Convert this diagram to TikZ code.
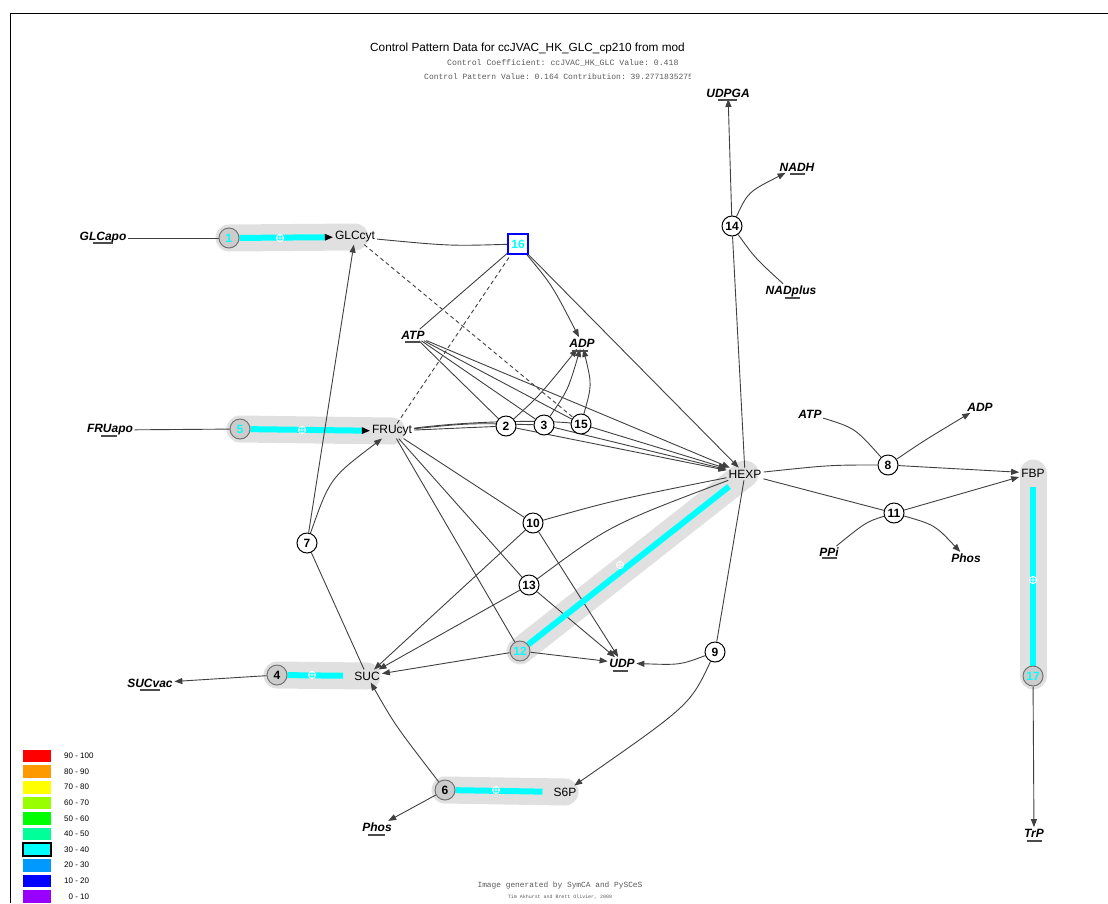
\documentclass[tikz,border=0pt]{standalone}
\usepackage{fontspec}
\setmainfont{Liberation Sans}
\setmonofont{Liberation Mono}
\usetikzlibrary{arrows.meta}

% legend colours
\definecolor{lgA}{HTML}{FF0000}
\definecolor{lgB}{HTML}{FF9900}
\definecolor{lgC}{HTML}{FFFF00}
\definecolor{lgD}{HTML}{99FF00}
\definecolor{lgE}{HTML}{00FF00}
\definecolor{lgF}{HTML}{00FF99}
\definecolor{lgG}{HTML}{00FFFF}
\definecolor{lgH}{HTML}{0099FF}
\definecolor{lgI}{HTML}{0000FF}
\definecolor{lgJ}{HTML}{9900FF}
\colorlet{hotcol}{lgG}

\pgfdeclarelayer{bands}
\pgfdeclarelayer{edges}
\pgfsetlayers{bands,edges,main}

\tikzset{
  rxn/.style={circle, draw=black, line width=1pt, fill=white, minimum size=20pt,
    inner sep=0pt, font=\fontsize{12}{12}\selectfont\bfseries},
  rxnhot/.style={rxn, draw=black!55, fill=black!20, text=hotcol},
  rxnon/.style={rxn, draw=black!55, fill=black!20},
  rxnbox/.style={rxn, rectangle, draw=blue, line width=1.2pt, text=hotcol},
  met/.style={inner sep=2pt, font=\fontsize{12}{13}\selectfont},
  ext/.style={inner sep=1.5pt, font=\fontsize{12}{13}\selectfont\bfseries\itshape},
  flux/.style={draw=black!75, line width=0.9pt},
  prod/.style={flux, -{Triangle[length=8pt,width=6pt]}},
  modif/.style={flux, dash pattern=on 4pt off 3pt},
  band/.style={draw=black!12, line width=27pt, line cap=round},
  hot/.style={draw=hotcol, line width=6pt},
  hotprod/.style={hot, -{Triangle[length=8pt,width=7pt,line width=0pt,color=black]}},
  ulbar/.style={draw=black!70, line width=1.2pt},
  xmark/.pic={\draw[white, line width=0.9pt] (0,0) circle (3.6) (-3.6,0) -- (3.6,0) (0,-3.6) -- (0,3.6);},
  legendtxt/.style={inner sep=0pt, font=\fontsize{8}{9}\selectfont},
}

\begin{document}
\begin{tikzpicture}[x=1pt, y=-1pt]
  \useasboundingbox (0,0) rectangle (1108,903);
  \draw[line width=1pt] (10,903) -- (10,13) -- (1108,13);

  % header
  \node[anchor=west, inner sep=0pt, font=\fontsize{11.8}{13}\selectfont] (title) at (370,48)
    {Control Pattern Data for ccJVAC\_HK\_GLC\_cp210 from mod};
  \node[anchor=west, inner sep=0pt, font=\fontsize{8.2}{9}\ttfamily, text=black!65] (cc) at (447,63)
    {Control Coefficient: ccJVAC\_HK\_GLC Value: 0.418};
  \begin{scope}
    \clip (0,0) rectangle (690,903);
    \node[anchor=west, inner sep=0pt, font=\fontsize{8}{9}\ttfamily, text=black!65] (cp) at (424,77)
      {Control Pattern Value: 0.164 Contribution: 39.2771835275};
  \end{scope}

  % species
  \node[ext] (GLCapo) at (103,238) {GLCapo};
  \node[met] (GLCcyt) at (355,237) {GLCcyt};
  \node[ext] (FRUapo) at (110,430) {FRUapo};
  \node[met] (FRUcyt) at (392,431) {FRUcyt};
  \node[ext] (ATPa) at (413,335) {ATP};
  \node[ext] (ADPa) at (582,343) {ADP};
  \node[met] (HEXP) at (745,474) {HEXP};
  \node[met] (FBP) at (1033,473) {FBP};
  \node[ext] (SUCvac) at (150,683) {SUCvac};
  \node[met] (SUC) at (367,676) {SUC};
  \node[ext] (PhosA) at (377,827) {Phos};
  \node[met] (S6P) at (565,792) {S6P};
  \node[ext] (UDP) at (622,663) {UDP};
  \node[ext] (UDPGA) at (728,93) {UDPGA};
  \node[ext] (NADH) at (797,167) {NADH};
  \node[ext] (NADplus) at (791,291) {NADplus};
  \node[ext] (ATPb) at (810,414) {ATP};
  \node[ext] (ADPb) at (980,407) {ADP};
  \node[ext] (PPi) at (829,552) {PPi};
  \node[ext] (PhosB) at (966,558) {Phos};
  \node[ext] (TrP) at (1034,833) {TrP};
  \foreach \xa/\xb/\yy in {93/113/243, 101/117/436, 140/160/690, 368/385/835, 405/420/342,
      572/588/351, 613/628/671, 718/737/100, 790/805/174, 785/800/298, 822/837/558, 1027/1042/841}
    \draw[ulbar] (\xa,\yy) -- (\xb,\yy);

  % reactions
  \foreach \n/\xx/\yy in {2/506/426, 3/544/425, 7/307/543, 8/888/465, 9/715/652,
      10/533/523, 11/894/513, 13/529/585, 14/732/226, 15/581/424}
    \node[rxn] (r\n) at (\xx,\yy) {\n};
  \foreach \n/\xx/\yy in {1/229/238, 5/240/429, 12/520/651, 17/1033/676}
    \node[rxnhot] (r\n) at (\xx,\yy) {\n};
  \foreach \n/\xx/\yy in {4/277/675, 6/445/790}
    \node[rxnon] (r\n) at (\xx,\yy) {\n};
  \node[rxnbox] (r16) at (518,244) {16};

  % highlighted pattern
  \begin{pgfonlayer}{bands}
    \draw[band] (r1.center) -- (GLCcyt.center);
    \draw[band] (r5.center) -- (FRUcyt.center);
    \draw[band] (r4.center) -- (SUC.center);
    \draw[band] (r6.center) -- (S6P.center);
    \draw[band] (r12.center) -- (HEXP.center);
    \draw[band] (r17.center) -- (FBP.center);
  \end{pgfonlayer}

  \begin{pgfonlayer}{edges}
    % hexokinase/fructokinase block
    \draw[flux] (GLCapo) -- (r1);
    \draw[hotprod] (r1) -- (GLCcyt);
    \draw[flux] (GLCcyt) .. controls (450,246) .. (r16);
    \draw[flux] (ATPa) -- (r16);
    \draw[prod] (r16) .. controls (552,285) .. (ADPa);
    \draw[prod] (r16) -- (HEXP);
    \draw[modif] (GLCcyt) -- (r15);
    \draw[modif] (FRUcyt) -- (r16);
    \draw[flux] (FRUapo) -- (r5);
    \draw[hotprod] (r5) -- (FRUcyt);
    \foreach \r in {2,3,15} {
      \draw[flux] (ATPa) -- (r\r);
      \draw[prod] (r\r) -- (HEXP);
    }
    \draw[prod] (ATPa) -- (HEXP);
    \draw[flux] (FRUcyt) -- (r2);
    \draw[flux] (FRUcyt) .. controls (470,423) .. (r3);
    \draw[flux] (FRUcyt) .. controls (470,421) and (540,420) .. (r15);
    \draw[prod] (r2) .. controls (540,395) .. (ADPa);
    \draw[prod] (r3) .. controls (568,390) .. (ADPa);
    \draw[prod] (r15) .. controls (592,385) .. (ADPa);

    % sucrose cycle
    \draw[prod] (r7) -- (GLCcyt);
    \draw[prod] (r7) .. controls (330,478) .. (FRUcyt);
    \draw[flux] (SUC) -- (r7);
    \draw[hot, shorten <=9pt] (SUC) -- (r4);
    \draw[prod] (r4) -- (SUCvac);
    \draw[hot, shorten >=9pt] (r6) -- (S6P);
    \draw[prod] (r6) .. controls (395,725) .. (SUC);
    \draw[prod] (r6) -- (PhosA);
    \draw[flux] (HEXP) -- (r9);
    \draw[prod] (r9) .. controls (680,665) .. (UDP);
    \draw[prod] (r9) .. controls (690,705) .. (S6P);
    \foreach \r in {10,12,13} {
      \draw[flux] (FRUcyt) -- (r\r);
      \draw[prod] (r\r) -- (SUC);
      \draw[prod] (r\r) -- (UDP);
    }
    \draw[flux] (HEXP) .. controls (615,500) .. (r10);
    \draw[flux] (HEXP) .. controls (610,525) .. (r13);
    \draw[hot, shorten >=10pt] (r12) -- (HEXP);

    % HEXP consumers
    \draw[flux] (HEXP) -- (r14);
    \draw[prod] (r14) -- (UDPGA);
    \draw[prod] (r14) .. controls (748,192) .. (NADH);
    \draw[flux] (NADplus) .. controls (755,258) .. (r14);
    \draw[flux] (HEXP) .. controls (830,465) .. (r8);
    \draw[flux] (ATPb) .. controls (855,428) .. (r8);
    \draw[prod] (r8) .. controls (925,440) .. (ADPb);
    \draw[prod] (r8) -- (FBP);
    \draw[flux] (HEXP) -- (r11);
    \draw[flux] (PPi) .. controls (866,522) .. (r11);
    \draw[prod] (r11) -- (FBP);
    \draw[prod] (r11) .. controls (935,525) .. (PhosB);
    \draw[hot, shorten >=8pt] (r17) -- (FBP);
    \draw[prod] (r17) -- (TrP);
  \end{pgfonlayer}

  % centre marks on the pattern
  \foreach \xx/\yy in {280/238, 302/430, 312/675, 496/790, 620/565, 1033/580}
    \pic at (\xx,\yy) {xmark};

  % legend
  \foreach \c/\lbl [count=\i from 0] in {lgA/90 - 100, lgB/80 - 90, lgC/70 - 80, lgD/60 - 70,
      lgE/50 - 60, lgF/40 - 50, lgG/30 - 40, lgH/20 - 30, lgI/10 - 20, lgJ/\phantom{0}0 - 10} {
    \fill[\c] (23,749.7+15.6*\i) rectangle ++(28,12.7);
    \node[legendtxt, anchor=west] (key\i) at (64,756+15.6*\i) {\lbl};
  }
  \draw[line width=1.8pt] (23,749.7+15.6*6) rectangle ++(28,12.7);

  % footer
  \node[inner sep=0pt, font=\fontsize{7.85}{9}\ttfamily, text=black!65] (credit) at (560,885)
    {Image generated by SymCA and PySCeS};
  \node[inner sep=0pt, font=\fontsize{4.95}{6}\ttfamily, text=black!65] (authors) at (560,897)
    {Tim Akhurst and Brett Olivier, 2008};
\end{tikzpicture}
\end{document}
